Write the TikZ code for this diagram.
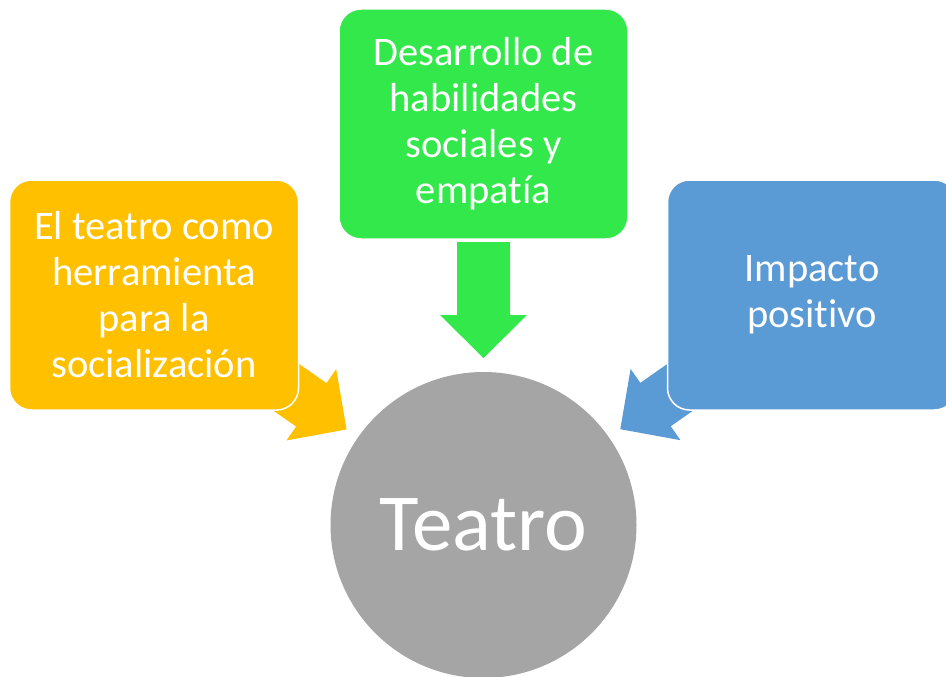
\documentclass[tikz,border=0pt]{standalone}
\usepackage{fontspec}
\setmainfont[Ligatures = NoCommon]{Carlito}
\usetikzlibrary{calc,backgrounds}
\definecolor{orangeC}{HTML}{FFC000}
\definecolor{greenC}{HTML}{33E84B}
\definecolor{blueC}{HTML}{5B9BD5}
\definecolor{grayC}{HTML}{A5A5A5}

\begin{document}
\begin{tikzpicture}[x = 1pt, y = 1pt,
  box/.style = {draw = white, line width = 1.5pt, rounded corners = 22pt,
    minimum width = 289pt, minimum height = 230pt, inner sep = 0pt,
    text width = 280pt, align = flush center, text = white,
    font = \fontsize{40.5}{46}\selectfont},
  hub/.style = {circle, fill = grayC, minimum size = 306pt, inner sep = 0pt,
    text = white, font = \fontsize{81}{84}\selectfont}]
\useasboundingbox (0,0) rectangle (946,-677);
\node[box, fill = orangeC] (herr) at (154,-295) {El teatro como\\herramienta\\para la\\socialización};
\node[box, fill = greenC] (desa) at (483.5,-124) {Desarrollo de\\habilidades\\sociales y\\empatía};
\node[box, fill = blueC] (impa) at (812,-295) {Impacto\\positivo};
\node[hub] (teatro) at (483.5,-525) {Teatro};
% block arrows towards the circle
\begin{scope}[on background layer]
\foreach \b/\c in {herr/orangeC, desa/greenC, impa/blueC} {
  \coordinate (\b-tip) at ($(teatro.center)!167pt!(\b.center)$);
  \coordinate (\b-neck) at ($(teatro.center)!210pt!(\b.center)$);
  \coordinate (\b-tail) at ($(teatro.center)!283pt!(\b.center)$);
  \fill[\c] (\b-tip) -- ($(\b-neck)!43.5pt!90:(\b-tip)$)
    -- ($(\b-neck)!26.5pt!90:(\b-tip)$) -- ($(\b-tail)!26.5pt!90:(\b-neck)$)
    -- ($(\b-tail)!26.5pt!-90:(\b-neck)$) -- ($(\b-neck)!26.5pt!-90:(\b-tip)$)
    -- ($(\b-neck)!43.5pt!-90:(\b-tip)$) -- cycle;
}
\end{scope}
\end{tikzpicture}
\end{document}
